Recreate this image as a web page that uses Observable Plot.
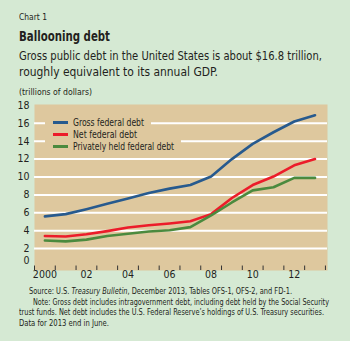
<!DOCTYPE html>
<html>
<head>
<meta charset="utf-8">
<script src="https://cdn.jsdelivr.net/npm/d3@7"></script>
<script src="https://cdn.jsdelivr.net/npm/@observablehq/plot@0.6"></script>
<style>
  html, body { margin: 0; padding: 0; }
  body { width: 350px; height: 341px; background: #d5e9d3; overflow: hidden;
         font-family: "Liberation Sans Narrow", "DejaVu Sans Condensed", "Arial Narrow", sans-serif; color: #231f20; }
  #wrap { position: relative; width: 350px; height: 341px; }
  .abs { position: absolute; white-space: nowrap; }
  .fit { display: inline-block; transform-origin: 0 50%; white-space: nowrap; }
  #chartnum { left: 19px; top: 12px; font-size: 9px; }
  #title { left: 19px; top: 28px; font-size: 14px; font-weight: bold; }
  #sub { left: 19px; top: 48px; font-size: 12px; line-height: 16px; }
  #unit { left: 19px; top: 87px; font-size: 8.5px; }
  #plot { position: absolute; left: 0; top: 98px; }
  #legend { position: absolute; left: 45px; top: 116px; font-size: 10.5px; }
  .row { display: flex; align-items: center; height: 12px; background: #dec89e; padding: 0 7px 0 8px; width: max-content; }
  .sw { width: 15px; height: 3px; margin-right: 5px; flex: none; }
  #foot { left: 0; top: 287px; font-size: 8px; line-height: 10.7px; }
  #foot > div { position: relative; }
</style>
</head>
<body>
<div id="wrap">
  <div class="abs" id="chartnum"><span class="fit" data-w="28">Chart 1</span></div>
  <div class="abs" id="title"><span class="fit" data-w="91">Ballooning debt</span></div>
  <div class="abs" id="sub"><span class="fit" data-w="303">Gross public debt in the United States is about $16.8 trillion,</span><br><span class="fit" data-w="199">roughly equivalent to its annual GDP.</span></div>
  <div class="abs" id="unit"><span class="fit" data-w="73">(trillions of dollars)</span></div>
  <div id="plot"></div>
  <div id="legend"></div>
  <div class="abs" id="foot">
    <div style="left:29px"><span class="fit" data-w="263">Source: U.S. <i>Treasury Bulletin</i>, December 2013, Tables OFS-1, OFS-2, and FD-1.</span></div>
    <div style="left:33px"><span class="fit" data-w="296">Note: Gross debt includes intragovernment debt, including debt held by the Social Security</span></div>
    <div style="left:19px"><span class="fit" data-w="305">trust funds. Net debt includes the U.S. Federal Reserve’s holdings of U.S. Treasury securities.</span></div>
    <div style="left:19px"><span class="fit" data-w="90">Data for 2013 end in June.</span></div>
  </div>
</div>
<script>
const years = [2000, 2001, 2002, 2003, 2004, 2005, 2006, 2007, 2008, 2009, 2010, 2011, 2012, 2013];
const grossDebt   = [5.6, 5.85, 6.4, 7.0, 7.6, 8.2, 8.7, 9.1, 10.05, 12.0, 13.7, 15.0, 16.2, 16.9];
const netDebt     = [3.4, 3.35, 3.6, 3.95, 4.35, 4.6, 4.8, 5.05, 5.85, 7.65, 9.1, 10.05, 11.3, 12.0];
const privateDebt = [2.9, 2.8, 3.0, 3.4, 3.65, 3.9, 4.05, 4.4, 5.7, 7.15, 8.5, 8.85, 9.9, 9.9];
const seriesNames = ["Gross federal debt", "Net federal debt", "Privately held federal debt"];
const seriesColors = ["#275a8e", "#ec1c2a", "#4b8a3e"];
const legendWidths = [71, 64, 101];
const yTicks = [0, 2, 4, 6, 8, 10, 12, 14, 16, 18];
const gridValues = [2, 4, 6, 8, 10, 12, 14, 16];
const xTickYears = [2000, 2001, 2002, 2003, 2004, 2005, 2006, 2007, 2008, 2009, 2010, 2011, 2012, 2013, 2014];
const xLabelYears = [2000, 2002, 2004, 2006, 2008, 2010, 2012];
const xTickLabels = ["2000", "02", "04", "06", "08", "10", "12"];

const seriesValues = [grossDebt, netDebt, privateDebt];
const rows = [];
seriesNames.forEach((name, s) => {
  years.forEach((yr, i) => rows.push({series: name, t: yr + 0.5, v: seriesValues[s][i]}));
});
const labelMap = new Map(xLabelYears.map((y, i) => [y + 0.5, xTickLabels[i]]));
const yMin = -0.45;
const FONT = '"Liberation Sans Narrow", "DejaVu Sans Condensed", sans-serif';

const chart = Plot.plot({
  width: 350,
  height: 185,
  marginLeft: 34,
  marginRight: 23,
  marginTop: 6,
  marginBottom: 13,
  style: {fontFamily: FONT, fontSize: "10px", color: "#231f20", background: "transparent", overflow: "visible"},
  x: {domain: [2000, 2014.1], axis: null},
  y: {domain: [yMin, 18.1], axis: null},
  color: {domain: seriesNames, range: seriesColors},
  marks: [
    Plot.frame({fill: "#dec89e", stroke: null}),
    Plot.gridY(gridValues, {stroke: "#ffffff", strokeOpacity: 1, strokeWidth: 2}),
    Plot.ruleX(xTickYears, {y1: yMin, y2: 0.05, stroke: "#333", strokeWidth: 1}),
    Plot.axisY(yTicks.filter(d => d !== 0), {tickSize: 0, tickPadding: 5, fontSize: 10.5, label: null}),
    Plot.axisY([0], {tickSize: 0, tickPadding: 5, fontSize: 10.5, dy: -6, label: null}),
    Plot.axisX(xLabelYears.map(y => y + 0.5), {tickSize: 0, tickPadding: 0, fontSize: 10.5, label: null, tickFormat: d => labelMap.get(d)}),
    Plot.line(rows, {x: "t", y: "v", z: "series", stroke: "series", strokeWidth: 2.6, curve: "linear"})
  ]
});
document.getElementById("plot").appendChild(chart);

const legend = document.getElementById("legend");
seriesNames.forEach((name, i) => {
  const row = document.createElement("div");
  row.className = "row";
  const sw = document.createElement("span");
  sw.className = "sw";
  sw.style.background = seriesColors[i];
  const tx = document.createElement("span");
  tx.className = "fit";
  tx.dataset.w = legendWidths[i];
  tx.textContent = name;
  row.appendChild(sw);
  row.appendChild(tx);
  legend.appendChild(row);
});

document.querySelectorAll(".fit").forEach(el => {
  const target = +el.dataset.w;
  const natural = el.getBoundingClientRect().width;
  if (natural > 0) {
    const k = target / natural;
    el.style.transform = `scaleX(${k})`;
    el.style.marginRight = (target - natural) + "px";
  }
});
</script>
</body>
</html>
